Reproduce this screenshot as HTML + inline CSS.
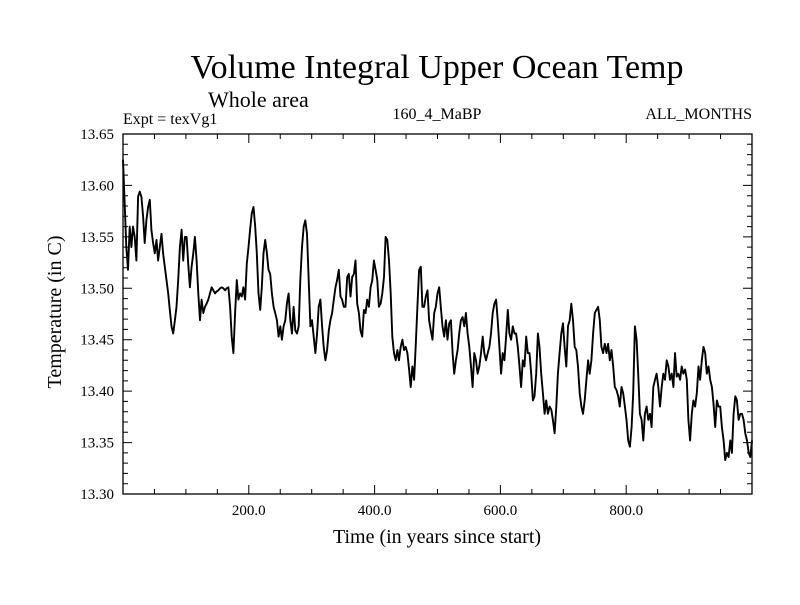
<!DOCTYPE html>
<html><head><meta charset="utf-8"><style>
body{margin:0;background:#fff}
svg text{font-family:"Liberation Serif",serif;fill:#000}
</style></head><body>
<svg id="chart" width="800" height="600" viewBox="0 0 800 600">
<text x="437" y="78" text-anchor="middle" font-size="34">Volume Integral Upper Ocean Temp</text>
<text x="208" y="107" font-size="22">Whole area</text>
<text x="123" y="124" font-size="16">Expt = texVg1</text>
<text x="437" y="119" text-anchor="middle" font-size="16">160_4_MaBP</text>
<text x="752" y="119" text-anchor="end" font-size="16">ALL_MONTHS</text>
<text transform="translate(61,312) rotate(-90)" text-anchor="middle" font-size="20">Temperature (in C)</text>
<text x="437" y="543" text-anchor="middle" font-size="20">Time (in years since start)</text>
<g id="axes"></g>
<g id="series"></g>
</svg>
<script>
const yTicks=[13.30,13.35,13.40,13.45,13.50,13.55,13.60,13.65];
const xTicks=[200,400,600,800];
const xDomain=[0,1000];
const yDomain=[13.30,13.65];
const temps=[13.625,13.582,13.540,13.518,13.560,13.540,13.560,13.550,13.527,13.589,13.594,13.589,13.570,13.544,13.566,13.579,13.586,13.557,13.544,13.534,13.547,13.527,13.540,13.553,13.534,13.521,13.508,13.495,13.479,13.463,13.456,13.469,13.482,13.508,13.540,13.557,13.527,13.550,13.550,13.524,13.501,13.521,13.534,13.550,13.527,13.495,13.469,13.489,13.476,13.482,13.485,13.489,13.495,13.501,13.498,13.495,13.497,13.498,13.500,13.501,13.500,13.498,13.500,13.501,13.482,13.453,13.437,13.476,13.508,13.489,13.495,13.492,13.501,13.489,13.524,13.540,13.557,13.573,13.579,13.560,13.534,13.495,13.479,13.501,13.534,13.547,13.534,13.518,13.514,13.495,13.482,13.476,13.469,13.453,13.463,13.450,13.463,13.469,13.485,13.495,13.469,13.456,13.482,13.459,13.456,13.463,13.508,13.540,13.560,13.566,13.553,13.508,13.463,13.469,13.453,13.437,13.456,13.482,13.489,13.463,13.443,13.430,13.440,13.459,13.469,13.476,13.489,13.501,13.508,13.518,13.492,13.489,13.482,13.482,13.511,13.514,13.492,13.511,13.514,13.527,13.485,13.476,13.459,13.453,13.479,13.476,13.489,13.482,13.501,13.508,13.527,13.518,13.508,13.482,13.485,13.495,13.511,13.550,13.547,13.527,13.495,13.453,13.437,13.430,13.440,13.430,13.443,13.450,13.440,13.443,13.437,13.421,13.404,13.424,13.411,13.446,13.482,13.518,13.521,13.482,13.482,13.492,13.498,13.469,13.459,13.450,13.476,13.482,13.495,13.501,
13.482,13.463,13.453,13.469,13.450,13.466,13.469,13.437,13.417,13.430,13.440,13.456,13.469,13.472,13.463,13.476,13.456,13.443,13.424,13.404,13.437,13.430,13.417,13.424,13.437,13.453,13.437,13.430,13.437,13.443,13.456,13.476,13.485,13.489,13.469,13.443,13.417,13.437,13.430,13.453,13.479,13.456,13.450,13.463,13.456,13.456,13.443,13.424,13.404,13.430,13.424,13.453,13.437,13.437,13.417,13.391,13.395,13.417,13.456,13.443,13.417,13.398,13.378,13.391,13.378,13.385,13.382,13.372,13.359,13.385,13.417,13.437,13.456,13.466,13.443,13.424,13.463,13.469,13.485,13.469,13.443,13.440,13.424,13.398,13.385,13.378,13.391,13.411,13.430,13.417,13.430,13.456,13.476,13.479,13.482,13.469,13.443,13.437,13.446,13.437,13.446,13.430,13.440,13.424,13.404,13.401,13.395,13.385,13.404,13.398,13.385,13.372,13.352,13.346,13.365,13.398,13.463,13.450,13.417,13.378,13.372,13.352,13.378,13.385,13.372,13.378,13.365,13.404,13.411,13.417,13.404,13.385,13.404,13.417,13.411,13.430,13.424,13.411,13.417,13.404,13.437,13.414,13.417,13.411,13.424,13.417,13.421,13.411,13.372,13.352,13.378,13.391,13.385,13.398,13.424,13.411,13.430,13.443,13.437,13.417,13.424,13.411,13.404,13.388,13.365,13.391,13.385,13.385,13.365,13.352,13.333,13.340,13.336,13.352,13.340,13.378,13.395,13.391,13.372,13.378,13.378,13.372,13.359,13.352,13.340,13.336,13.352];
const yearStep=(xDomain[1]-xDomain[0])/(temps.length-1);

const L=123,R=752,T=134,B=494;
const xs=v=>L+(v-xDomain[0])/(xDomain[1]-xDomain[0])*(R-L);
const ys=v=>B-(v-yDomain[0])/(yDomain[1]-yDomain[0])*(B-T);
const NS="http://www.w3.org/2000/svg";
const axes=document.getElementById('axes');
function mk(tag,attrs,parent){const e=document.createElementNS(NS,tag);for(const k in attrs)e.setAttribute(k,attrs[k]);parent.appendChild(e);return e;}

const frame=mk('rect',{x:L,y:T,width:R-L,height:B-T,fill:'none',stroke:'#000','stroke-width':1.3},axes);



let d='';
for(let v=50;v<1000;v+=50){const x=xs(v);const len=(v%200===0)?9:5;d+=`M${x},${B}v${-len}M${x},${T}v${len}`;}
for(let k=0;k<=35;k++){const v=13.30+k*0.01;const y=ys(v);const len=(k%5===0)?9:5;d+=`M${L},${y}h${len}M${R},${y}h${-len}`;}
const tk=mk('path',{d:d,stroke:'#000','stroke-width':1,fill:'none'},axes);



yTicks.forEach(v=>{
  const t=mk('text',{x:114,y:ys(v)+5,'text-anchor':'end','font-size':15},axes);
  t.textContent=v.toFixed(2);
  
  
});
xTicks.forEach(v=>{
  const t=mk('text',{x:xs(v),y:515,'text-anchor':'middle','font-size':15},axes);
  t.textContent=v.toFixed(1);
  
  
});

const pts=temps.map((v,i)=>`${xs(xDomain[0]+i*yearStep).toFixed(1)},${ys(v).toFixed(1)}`).join(' ');
const line=mk('polyline',{points:pts,fill:'none',stroke:'#000','stroke-width':1.9,'stroke-linejoin':'round'},document.getElementById('series'));


</script>
</body></html>
